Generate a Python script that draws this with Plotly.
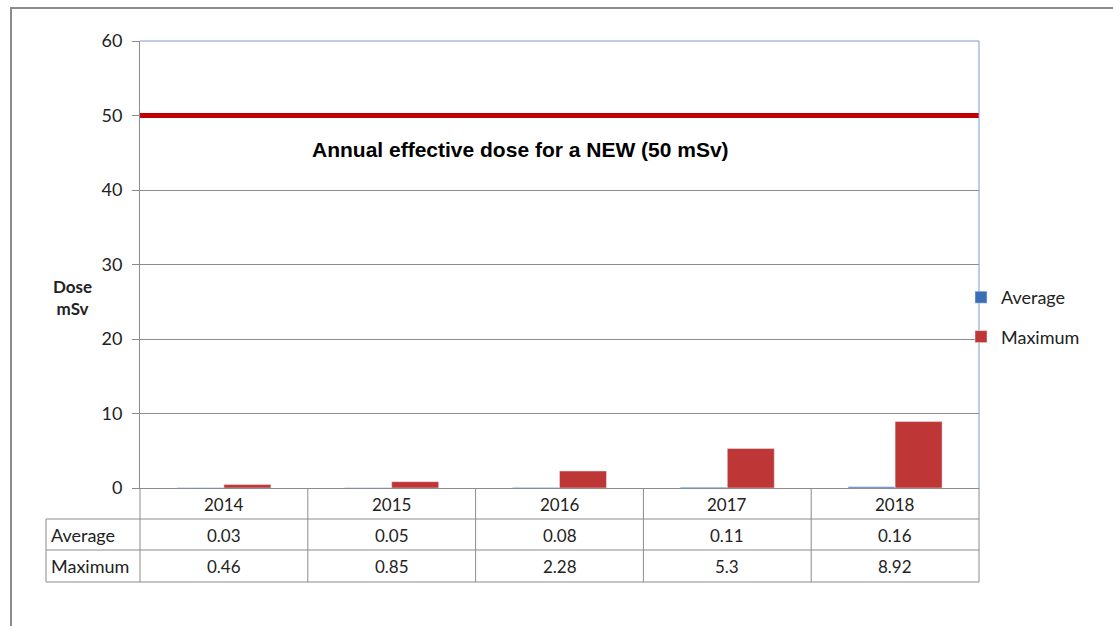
import plotly.graph_objects as go

years = ["2014", "2015", "2016", "2017", "2018"]
average = [0.03, 0.05, 0.08, 0.11, 0.16]
maximum = [0.46, 0.85, 2.28, 5.3, 8.92]
new_limit = 50
limit_label = "Annual effective dose for a NEW (50 mSv)"
y_ticks = [0, 10, 20, 30, 40, 50, 60]

FONT = "Lato"
GRAY = "#8C8C8C"
TXT = "#222"
W, H = 1113, 626
L, R, T, B = 140, 134, 41, 138
PW, PH = W - L - R, H - T - B


def px(xp):
    return (xp - L) / PW


def py(yp):
    return (H - B - yp) / PH


fig = go.Figure()
fig.add_trace(go.Bar(x=years, y=average, name="Average", marker=dict(color="#3A6FB8"),
                     legendgroup="a"))
fig.add_trace(go.Bar(x=years, y=maximum, name="Maximum", marker=dict(color="#BF3636"),
                     legendgroup="b"))

shapes = []
shapes.append(dict(type="line", xref="paper", yref="y", x0=0, x1=1, y0=new_limit, y1=new_limit,
                   line=dict(color="#C00000", width=5)))
shapes.append(dict(type="line", xref="paper", yref="paper", x0=0, x1=1, y0=1, y1=1,
                   line=dict(color="#7F9CCB", width=1)))
shapes.append(dict(type="line", xref="paper", yref="paper", x0=1, x1=1, y0=0, y1=1,
                   line=dict(color="#7F9CCB", width=1)))
shapes.append(dict(type="rect", xref="paper", yref="paper", x0=px(11), x1=px(1130),
                   y0=py(640), y1=py(8), line=dict(color=GRAY, width=2)))
for yl in [519, 550, 582]:
    shapes.append(dict(type="line", xref="paper", yref="paper", x0=px(46), x1=1,
                       y0=py(yl), y1=py(yl), line=dict(color=GRAY, width=1)))
shapes.append(dict(type="line", xref="paper", yref="paper", x0=px(46), x1=px(46),
                   y0=py(582), y1=py(519), line=dict(color=GRAY, width=1)))
n = len(years)
for i in range(n + 1):
    shapes.append(dict(type="line", xref="paper", yref="paper", x0=i / n, x1=i / n,
                       y0=py(582), y1=0, line=dict(color=GRAY, width=1)))


def ann(text, x, y, size, xanchor="center", family=FONT):
    return dict(text=text, xref="paper", yref="paper", x=x, y=y, xanchor=xanchor,
                yanchor="middle", showarrow=False,
                font=dict(family=family, size=size, color=TXT if family == FONT else "black"))


annotations = [
    ann("<b>" + limit_label + "</b>", px(520), py(149), 21, family="Arial"),
    ann("<b>Dose<br>mSv</b>", px(72), py(297), 17),
]
for i, yr in enumerate(years):
    xc = (i + 0.5) / n
    annotations.append(ann(yr, xc, py(504), 17))
    annotations.append(ann(f"{average[i]:g}", xc, py(535), 17))
    annotations.append(ann(f"{maximum[i]:g}", xc, py(566), 17))
for label, yy in (("Average", 535), ("Maximum", 566)):
    annotations.append(ann(label, px(49), py(yy), 18, xanchor="left"))

fig.update_layout(
    width=W, height=H,
    margin=dict(l=L, r=R, t=T, b=B),
    paper_bgcolor="white", plot_bgcolor="white",
    barmode="group", bargap=0.44, bargroupgap=0,
    font=dict(family=FONT, size=16, color=TXT),
    showlegend=True,
    legend=dict(x=px(961), y=py(279), xanchor="left", yanchor="top",
                tracegroupgap=13, font=dict(family=FONT, size=18, color=TXT),
                bgcolor="rgba(0,0,0,0)", itemwidth=30),
    shapes=shapes, annotations=annotations,
)
fig.update_xaxes(showticklabels=False, showgrid=False, showline=True, linecolor=GRAY,
                 linewidth=1, ticks="", zeroline=False, fixedrange=True)
fig.update_yaxes(range=[0, 60], tickvals=y_ticks, showgrid=True, gridcolor=GRAY, gridwidth=1,
                 showline=True, linecolor=GRAY, linewidth=1, ticks="outside", ticklen=7,
                 tickcolor=GRAY, zeroline=False, ticklabelstandoff=6,
                 tickfont=dict(family=FONT, size=18, color=TXT))

fig.write_html("out.html", config={"displayModeBar": False},
               post_script="document.body.style.margin='0';")
